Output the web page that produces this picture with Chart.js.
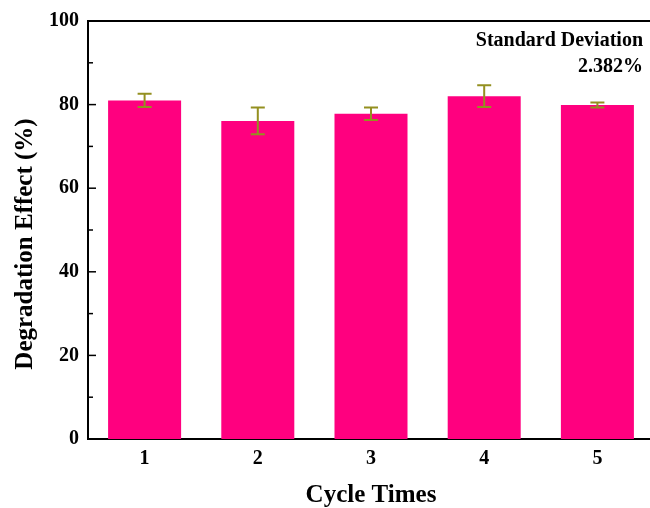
<!DOCTYPE html>
<html>
<head>
<meta charset="utf-8">
<script src="https://cdn.jsdelivr.net/npm/chart.js@4"></script>
<style>
  html, body { margin: 0; padding: 0; background: #fff; overflow: hidden; }
  #wrap { width: 660px; height: 508px; }
</style>
</head>
<body>
<div id="wrap"><canvas id="grafico"></canvas></div>
<script>
// --- dados ---
const CICLOS = ['1', '2', '3', '4', '5'];
const EFEITO = [81.0, 76.1, 77.8, 82.0, 79.9];      // média (%)
const ERRO = [1.6, 3.2, 1.5, 2.6, 0.6];            // desvio (+/-)
const TICKS_Y = [0, 20, 40, 60, 80, 100];
const NOTA = ['Standard Deviation', '2.382%'];

const FONTE = "'Liberation Serif', 'Times New Roman', serif";
const COR_BARRA = '#FF007F';
const COR_ERRO = '#949020';

// ticks internos (maiores e menores) + borda do quadro
const eixosPlugin = {
    id: 'eixos',
    afterDraw(chart) {
        const { ctx, chartArea: a, scales: { y } } = chart;
        ctx.save();
        ctx.strokeStyle = '#000';
        ctx.lineWidth = 2;
        ctx.beginPath();
        ctx.moveTo(a.left, a.top);
        ctx.lineTo(a.right, a.top);
        ctx.lineTo(a.right, a.bottom);
        ctx.stroke();
        ctx.lineWidth = 1.5;
        for (let v = 0; v <= 100; v += 10) {
            const py = y.getPixelForValue(v);
            const len = (v % 20 === 0) ? 8 : 5;
            ctx.beginPath();
            ctx.moveTo(a.left, py);
            ctx.lineTo(a.left + len, py);
            ctx.stroke();
        }
        ctx.restore();
    }
};

// barras de erro
const erroPlugin = {
    id: 'barrasErro',
    afterDatasetsDraw(chart) {
        const { ctx, scales: { y } } = chart;
        const meta = chart.getDatasetMeta(0);
        ctx.save();
        ctx.strokeStyle = COR_ERRO;
        ctx.lineWidth = 2;
        meta.data.forEach((bar, i) => {
            const topo = y.getPixelForValue(EFEITO[i] + ERRO[i]);
            const base = y.getPixelForValue(EFEITO[i] - ERRO[i]);
            ctx.beginPath();
            ctx.moveTo(bar.x, topo); ctx.lineTo(bar.x, base);
            ctx.moveTo(bar.x - 7, topo); ctx.lineTo(bar.x + 7, topo);
            ctx.moveTo(bar.x - 7, base); ctx.lineTo(bar.x + 7, base);
            ctx.stroke();
        });
        ctx.restore();
    }
};

// títulos dos eixos e anotação
const textosPlugin = {
    id: 'textos',
    afterDraw(chart) {
        const { ctx } = chart;
        ctx.save();
        ctx.fillStyle = '#000';
        ctx.font = 'bold 25px ' + FONTE;
        ctx.textAlign = 'center';
        ctx.textBaseline = 'middle';
        ctx.fillText('Cycle Times', 371, 496);
        ctx.translate(26, 244);
        ctx.rotate(-Math.PI / 2);
        ctx.fillText('Degradation Effect (%)', 0, 0);
        ctx.restore();

        ctx.save();
        ctx.fillStyle = '#000';
        ctx.font = 'bold 20px ' + FONTE;
        ctx.textAlign = 'right';
        ctx.textBaseline = 'alphabetic';
        ctx.fillText(NOTA[0], 643, 46);
        ctx.fillText(NOTA[1], 643, 72);
        ctx.restore();
    }
};

new Chart(document.getElementById('grafico'), {
    type: 'bar',
    data: {
        labels: CICLOS,
        datasets: [{
            data: EFEITO,
            backgroundColor: COR_BARRA,
            borderWidth: 0,
            categoryPercentage: 1,
            barPercentage: 0.645
        }]
    },
    options: {
        responsive: true,
        maintainAspectRatio: false,
        animation: false,
        layout: { padding: { top: 21, right: 6, left: 0, bottom: 0 } },
        plugins: { legend: { display: false }, tooltip: { enabled: false } },
        scales: {
            x: {
                grid: { display: false, drawTicks: false },
                border: { display: true, color: '#000', width: 2 },
                ticks: { color: '#000', padding: 8, font: { family: FONTE, size: 20, weight: 'bold' } },
                afterFit: (s) => { s.height = 69; }
            },
            y: {
                min: 0,
                max: 100,
                afterBuildTicks: (s) => { s.ticks = TICKS_Y.map(v => ({ value: v })); },
                grid: { display: false, drawTicks: false },
                border: { display: true, color: '#000', width: 2 },
                ticks: { color: '#000', padding: 9, font: { family: FONTE, size: 20, weight: 'bold' } },
                afterFit: (s) => { s.width = 88; }
            }
        }
    },
    plugins: [eixosPlugin, erroPlugin, textosPlugin]
});
</script>
</body>
</html>
